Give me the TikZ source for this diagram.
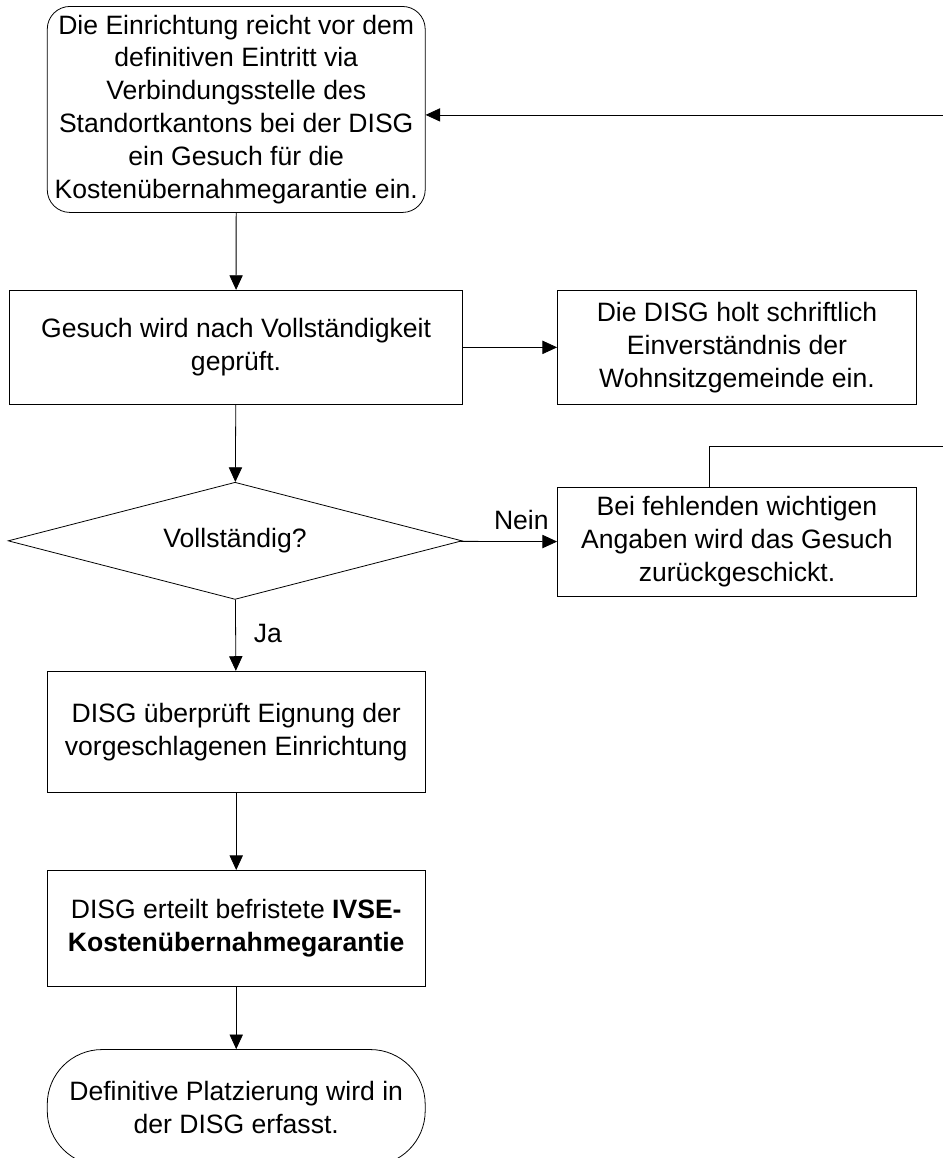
\documentclass[tikz,border=0pt]{standalone}
\usepackage{fontspec}
\setmainfont{Liberation Sans}
\usetikzlibrary{shapes.geometric}
\usetikzlibrary{arrows.meta}
\usetikzlibrary{positioning}

\begin{document}
\begin{tikzpicture}[
  box/.style={rectangle, draw=black, line width=0.6pt, align=center, anchor=north west, font=\fontsize{20}{24.75}\selectfont},
  flow/.style={draw=black, line width=0.6pt, -{Triangle[length=11pt,width=10pt]}},
  lbl/.style={font=\fontsize{20}{24.75}\selectfont}
]
\useasboundingbox (0,0) rectangle (24.95,-30.64);

\node at (1.24,-0.16)[box, rounded corners=0.6cm, minimum width=10.00cm, minimum height=5.45cm] (start) {Die Einrichtung reicht vor dem\\definitiven Eintritt via\\Verbindungsstelle des\\Standortkantons bei der DISG\\ein Gesuch f\"ur die\\Kosten\"ubernahmegarantie ein.};

\node at (0.24,-7.67)[box, minimum width=11.99cm, minimum height=3.02cm] (check) {Gesuch wird nach Vollst\"andigkeit\\gepr\"uft.};
\node at (14.74,-7.67)[box, minimum width=9.50cm, minimum height=3.02cm] (letter) {Die DISG holt schriftlich\\Einverst\"andnis der\\Wohnsitzgemeinde ein.};

\node at (6.22,-14.31)[diamond, draw=black, line width=0.6pt, aspect=4, inner sep=0pt, minimum width=12.01cm, minimum height=3.10cm, lbl] (complete) {Vollst\"andig?};
\node at (14.74,-12.89)[box, minimum width=9.50cm, minimum height=2.88cm] (missing) {Bei fehlenden wichtigen\\Angaben wird das Gesuch\\zur\"uckgeschickt.};

\node at (1.24,-17.75)[box, minimum width=10.00cm, minimum height=3.20cm] (suit) {DISG \"uberpr\"uft Eignung der\\vorgeschlagenen Einrichtung};
\node at (1.24,-23.02)[box, minimum width=10.00cm, minimum height=3.07cm] (grant) {DISG erteilt befristete \textbf{IVSE-}\\\textbf{Kosten\"ubernahmegarantie}};
\node at (1.24,-27.76)[box, rounded corners=1.45cm, minimum width=10.00cm, minimum height=3.07cm] (final) {Definitive Platzierung wird in\\der DISG erfasst.};

\coordinate (retin) at (24.95,-3.04);
\coordinate (retout) at (24.95,-11.80);

\draw[flow] (start) -- (check);
\draw[flow] (check) -- (letter);
\draw[flow] (check) -- (complete);
\draw[flow] (complete) -- node[lbl, pos=0.63, above=5pt] (nein) {Nein} (missing);
\draw[flow] (complete) -- node[lbl, pos=0.48, right=10pt] (ja) {Ja} (suit);
\draw[flow] (suit) -- (grant);
\draw[flow] (grant) -- (final);

\draw[line width=0.6pt] (18.76,0 |- missing.north) |- (retout);
\draw[flow] (retin) -- (retin -| start.east);

\end{tikzpicture}
\end{document}
